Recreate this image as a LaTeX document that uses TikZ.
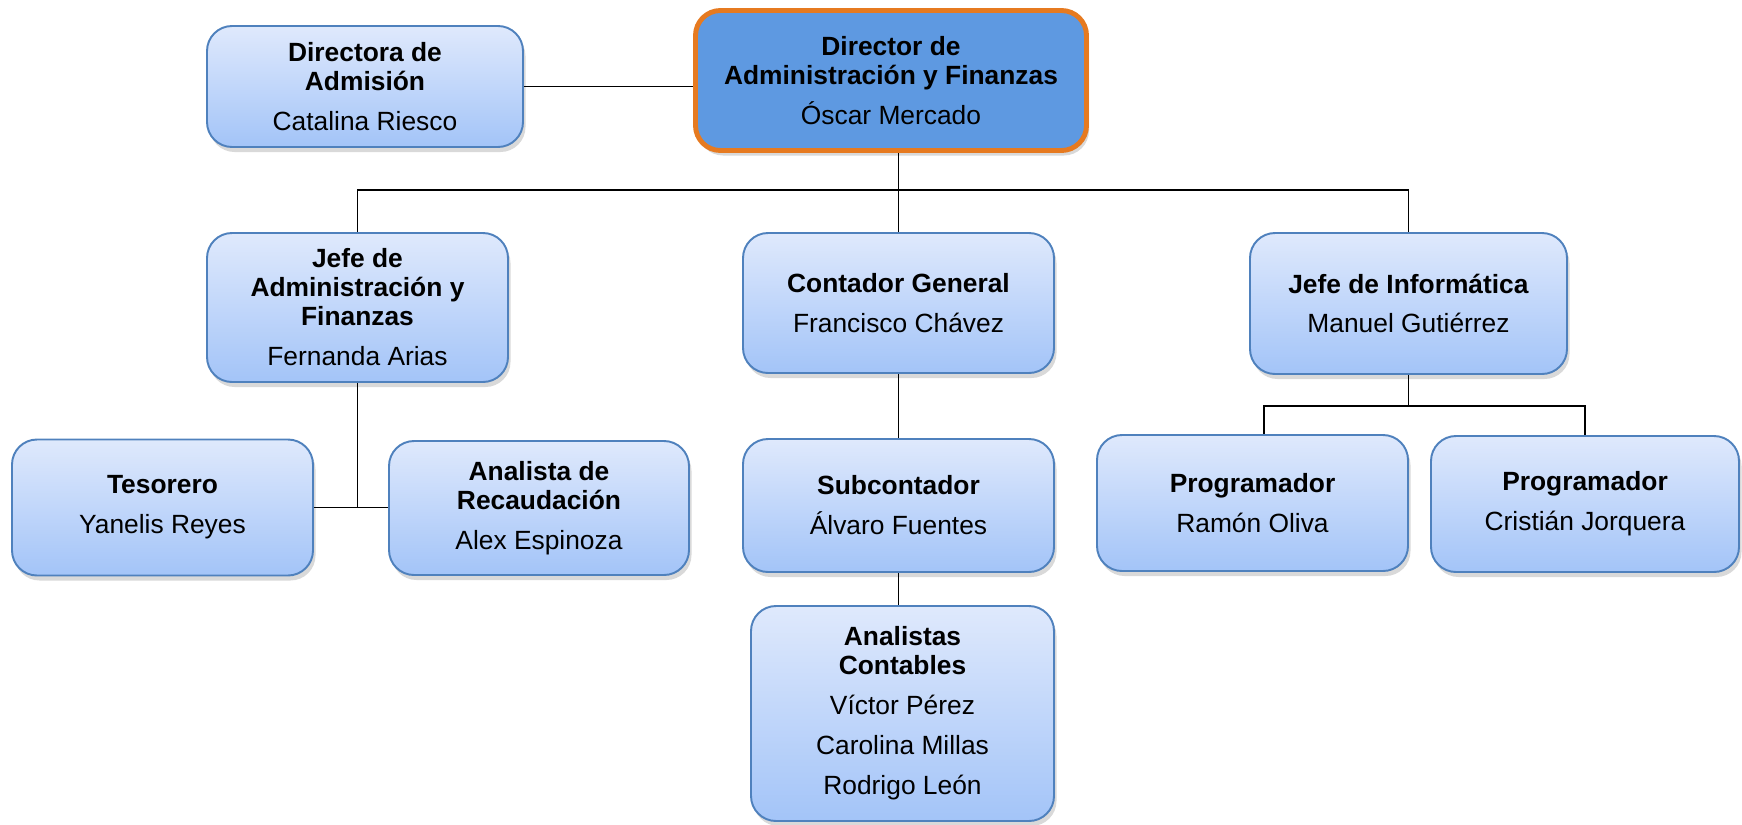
\documentclass[tikz,border=0pt]{standalone}
\usepackage{fontspec}
\setmainfont{Liberation Sans}
\usepackage{tikz}
\usetikzlibrary{positioning,shadows}
\definecolor{boxtop}{RGB}{223,233,252}
\definecolor{boxbot}{RGB}{163,196,248}
\definecolor{boxline}{RGB}{79,129,189}
\definecolor{dirfill}{RGB}{94,153,225}
\definecolor{dirline}{RGB}{230,122,32}
\begin{document}
\begin{tikzpicture}[font=\fontsize{15}{16.5}\selectfont,
  cargo/.style={rectangle, rounded corners=0.5cm, draw=boxline, line width=1.1pt, top color=boxtop, bottom color=boxbot, align=center, inner sep=0pt, drop shadow={opacity=0.3, shadow xshift=0.5mm, shadow yshift=-1mm}},
  jefatura/.style={cargo, draw=dirline, line width=2.8pt, top color=dirfill, bottom color=dirfill},
  linea/.style={line width=1.1pt}]
\useasboundingbox (0,0) rectangle (34.84,-16.48);
%top: director and admission
\node[jefatura, minimum width=7.82cm, minimum height=2.80cm] (director) at (17.82,-1.61) {\textbf{Director de}\\\textbf{Administración y Finanzas}\\[6.2pt]Óscar Mercado};
\node[cargo, minimum width=6.32cm, minimum height=2.42cm] (admision) at (7.30,-1.73) {\textbf{Directora de}\\\textbf{Admisión}\\[6.2pt]Catalina Riesco};
%second level
\node[cargo, minimum width=6.02cm, minimum height=2.98cm] (jefeadm) at (7.15,-6.15) {\textbf{Jefe de}\\\textbf{Administración y}\\\textbf{Finanzas}\\[6.2pt]Fernanda Arias};
\node[cargo, minimum width=6.22cm, minimum height=2.80cm] (contador) at (17.97,-6.06) {\textbf{Contador General}\\[6.2pt]Francisco Chávez};
\node[cargo, minimum width=6.34cm, minimum height=2.82cm] (informatica) at (28.17,-6.07) {\textbf{Jefe de Informática}\\[6.2pt]Manuel Gutiérrez};
%third level
\node[cargo, minimum width=6.02cm, minimum height=2.72cm] (tesorero) at (3.25,-10.15) {\textbf{Tesorero}\\[6.2pt]Yanelis Reyes};
\node[cargo, minimum width=6.00cm, minimum height=2.68cm] (recaudacion) at (10.78,-10.16) {\textbf{Analista de}\\\textbf{Recaudación}\\[6.2pt]Alex Espinoza};
\node[cargo, minimum width=6.22cm, minimum height=2.66cm] (subcontador) at (17.97,-10.11) {\textbf{Subcontador}\\[6.2pt]Álvaro Fuentes};
\node[cargo, minimum width=6.22cm, minimum height=2.72cm] (prog1) at (25.05,-10.06) {\textbf{Programador}\\[6.2pt]Ramón Oliva};
\node[cargo, minimum width=6.16cm, minimum height=2.72cm] (prog2) at (31.70,-10.08) {\textbf{Programador}\\[6.2pt]Cristián Jorquera};
%fourth level
\node[cargo, minimum width=6.06cm, minimum height=4.30cm] (analistas) at (18.05,-14.27) {\textbf{Analistas}\\\textbf{Contables}\\[6.2pt]Víctor Pérez\\[6.2pt]Carolina Millas\\[6.2pt]Rodrigo León};
%connectors
\coordinate (bus) at (0,-3.80); \coordinate (itbus) at (0,-8.12);
\draw[linea] (admision.east) -- (admision.east -| director.west);
\draw[linea] (contador.north) -- (contador.north |- director.south);
\draw[linea] (jefeadm.north) -- (jefeadm.north |- bus) -| (informatica.north);
\draw[linea] (jefeadm.south) -- (jefeadm.south |- tesorero.east); \draw[linea] (tesorero.east) -- (tesorero.east -| recaudacion.west);
\draw[linea] (contador.south) -- (subcontador.north); \draw[linea] (subcontador.south) -- (subcontador.south |- analistas.north);
\draw[linea] (informatica.south) -- (informatica.south |- itbus);
\draw[linea] ([xshift=2.3mm]prog1.north) |- (prog2.north |- itbus) -- (prog2.north);
\end{tikzpicture}
\end{document}
